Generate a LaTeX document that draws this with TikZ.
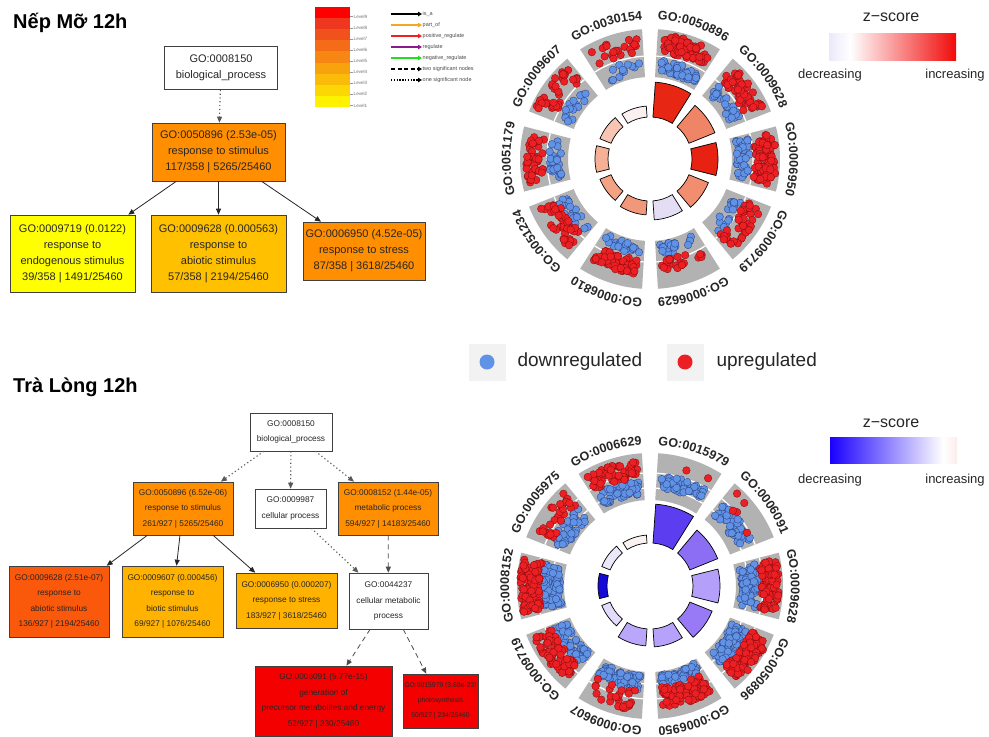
\documentclass[tikz,border=0pt]{standalone}
\usepackage{fontspec}
\setmainfont{Liberation Sans}
\usepackage{tikz}
\usetikzlibrary{arrows.meta,decorations.text}

\definecolor{goorange}{RGB}{255,142,0}
\definecolor{gogold}{RGB}{255,192,0}
\definecolor{goyellow}{RGB}{255,255,0}
\definecolor{goamber}{RGB}{255,178,0}
\definecolor{godeep}{RGB}{250,88,10}
\definecolor{gored}{RGB}{245,0,0}
\definecolor{trackgrey}{RGB}{178,178,178}
\definecolor{updot}{RGB}{236,32,36}
\definecolor{upline}{RGB}{130,10,10}
\definecolor{downdot}{RGB}{96,146,230}
\definecolor{downline}{RGB}{40,60,120}
\definecolor{keygrey}{RGB}{242,242,242}
\definecolor{keyorange}{RGB}{245,166,35}
\definecolor{keyred}{RGB}{238,32,32}
\definecolor{keypurple}{RGB}{139,26,139}
\definecolor{keygreen}{RGB}{34,221,34}
% z-score bar colours, top circle
\definecolor{zra}{RGB}{232,38,20}
\definecolor{zrb}{RGB}{240,132,102}
\definecolor{zrc}{RGB}{232,34,18}
\definecolor{zrd}{RGB}{242,142,112}
\definecolor{zre}{RGB}{228,222,245}
\definecolor{zrf}{RGB}{242,152,122}
\definecolor{zrg}{RGB}{244,162,132}
\definecolor{zrh}{RGB}{246,176,150}
\definecolor{zri}{RGB}{248,196,180}
\definecolor{zrj}{RGB}{250,240,240}
% z-score bar colours, bottom circle
\definecolor{zba}{RGB}{92,62,240}
\definecolor{zbb}{RGB}{140,110,245}
\definecolor{zbc}{RGB}{180,160,250}
\definecolor{zbd}{RGB}{152,122,246}
\definecolor{zbe}{RGB}{182,162,250}
\definecolor{zbf}{RGB}{186,166,250}
\definecolor{zbg}{RGB}{226,220,250}
\definecolor{zbh}{RGB}{22,10,215}
\definecolor{zbi}{RGB}{236,232,250}
\definecolor{zbj}{RGB}{250,242,240}
\definecolor{zlav}{RGB}{236,232,250}
\definecolor{zhot}{RGB}{242,10,10}
\definecolor{zcold}{RGB}{26,0,255}
\definecolor{zpink}{RGB}{252,236,236}

\newcommand\golabfont{\fontsize{12.5}{14}\selectfont\bfseries}

\tikzset{
  gobox/.style={draw=black!75, line width=0.6pt, align=center, inner sep=1pt, text=black!85},
  bigtree/.style={gobox, font=\fontsize{11}{16}\selectfont},
  smalltree/.style={gobox, font=\fontsize{8.3}{15.5}\selectfont},
  isa/.style={-{Triangle[length=6pt,width=5pt]}, line width=0.8pt, black!85},
  onesig/.style={isa, black!65, line width=1.1pt, dash pattern=on 1.2pt off 2.6pt},
  twosig/.style={isa, black!70, dash pattern=on 5pt off 4pt},
  updots/.style={fill=updot, draw=upline, line width=0.3pt},
  downdots/.style={fill=downdot, draw=downline, line width=0.3pt},
  keytext/.style={font=\fontsize{5.5}{6}\selectfont, text=black!70, inner sep=0.5pt},
  ztext/.style={font=\fontsize{13}{15}\selectfont, text=black!85},
}

% one grey track sector with its scatter: centre, k, nred, redlo, redhi, nblue, bluelo, bluehi
\newcommand\trackseg[8]{%
  \pgfmathsetmacro\tsA{90-36*#2-3.5}%
  \pgfmathsetmacro\tsE{90-36*#2-32.5}%
  \fill[trackgrey] ([shift={(\tsA:\trin)}]#1) arc[start angle=\tsA, end angle=\tsE, radius=\trin]
    -- ([shift={(\tsE:\trout)}]#1) arc[start angle=\tsE, end angle=\tsA, radius=\trout] -- cycle;
  \foreach \rl in \trlines {\draw[white, line width=1.3pt] ([shift={(\tsA:\rl)}]#1) arc[start angle=\tsA, end angle=\tsE, radius=\rl];}
  \foreach \q in {1,...,#6}{%
    \pgfmathsetmacro\ptA{\tsA-2.6-(\tsA-\tsE-5.2)*rnd}%
    \pgfmathsetmacro\ptR{#7+(#8-#7)*rnd}%
    \draw[downdots] ([shift={(\ptA:\ptR)}]#1) circle[radius=3.8];}
  \foreach \q in {1,...,#3}{%
    \pgfmathsetmacro\ptA{\tsA-2.6-(\tsA-\tsE-5.2)*rnd}%
    \pgfmathsetmacro\ptR{#4+(#5-#4)*rnd}%
    \draw[updots] ([shift={(\ptA:\ptR)}]#1) circle[radius=3.8];}
}
% inner z-score bar: centre, k, outer radius, colour
\newcommand\zbar[4]{%
  \pgfmathsetmacro\tsA{90-36*#2-4}%
  \pgfmathsetmacro\tsE{90-36*#2-32}%
  \filldraw[fill=#4, draw=black, line width=0.7pt] ([shift={(\tsA:\barin)}]#1) arc[start angle=\tsA, end angle=\tsE, radius=\barin]
    -- ([shift={(\tsE:#3)}]#1) arc[start angle=\tsE, end angle=\tsA, radius=#3] -- cycle;
}
% GO term along the rim: centre, k, text, radius
\newcommand\golab[4]{%
  \pgfmathsetmacro\tsM{90-36*#2-18}%
  \pgfmathsetmacro\tsA{\tsM+30}\pgfmathsetmacro\tsE{\tsM-30}%
  \path[decorate, decoration={text along path, text align=center, text color=black!85, text={|\golabfont|#3}}]
    ([shift={(\tsA:#4)}]#1) arc[start angle=\tsA, end angle=\tsE, radius=#4];
}

\begin{document}
\begin{tikzpicture}[x=1pt, y=1pt]
\pgfmathsetseed{2024}
\useasboundingbox (0,0) rectangle (989,-737);
\fill[white] (0,0) rectangle (989,-737);

\node[anchor=base west, inner sep=0, font=\fontsize{20}{22}\selectfont\bfseries] (title1) at (13,-28) {Nếp Mỡ 12h};
\node[anchor=base west, inner sep=0, font=\fontsize{20}{22}\selectfont\bfseries] (title2) at (13,-392) {Trà Lòng 12h};

% upper GO tree
\node[bigtree, fill=white, minimum width=113, minimum height=43] (t0) at (221,-68) {GO:0008150\\biological\_process};
\node[bigtree, fill=goorange, minimum width=133, minimum height=58] (t1) at (218.5,-152) {GO:0050896 (2.53e-05)\\response to stimulus\\117/358 | 5265/25460};
\node[bigtree, fill=goyellow, minimum width=125, minimum height=77] (t2) at (72.5,-253.5) {GO:0009719 (0.0122)\\response to\\endogenous stimulus\\39/358 | 1491/25460};
\node[bigtree, fill=gogold, minimum width=135, minimum height=77] (t3) at (218.5,-253.5) {GO:0009628 (0.000563)\\response to\\abiotic stimulus\\57/358 | 2194/25460};
\node[bigtree, fill=goorange, minimum width=122, minimum height=58] (t4) at (364,-251) {GO:0006950 (4.52e-05)\\response to stress\\87/358 | 3618/25460};
\draw[onesig] (t0) -- (t1);
\draw[isa] (t1) -- (t2);
\draw[isa] (t1) -- (t3);
\draw[isa] (t1) -- (t4);

% level key
\foreach \i in {0,...,8}{
  \pgfmathsetmacro\mix{100*\i/8}
  \pgfmathtruncatemacro\lvl{9-\i}
  \fill[yellow!\mix!red] (315,{-7-11.1*\i}) rectangle (350,{-7-11.1*(\i+1)});
  \draw[black!40, line width=0.3pt] (350,{-5.5-11.1*(\i+1)}) -- (353,{-5.5-11.1*(\i+1)});
  \node[anchor=west, keytext, text=black!55, font=\fontsize{4.6}{5}\selectfont] (lv\i) at (353,{-5.5-11.1*(\i+1)}) {Level\lvl};
}
% relation key
\foreach \lab/\col [count=\j from 0] in {is\_a/black, part\_of/keyorange, positive\_regulate/keyred, regulate/keypurple, negative\_regulate/keygreen}{
  \coordinate (ka\j) at (391,{-14-11*\j});
  \node[anchor=west, keytext] (kl\j) at (422,{-14-11*\j}) {\lab};
  \draw[color=\col, line width=1.7pt, -{Triangle[length=4pt,width=4.5pt]}] (ka\j) -- (kl\j.west);
}
\coordinate (ka5) at (391,-69);
\node[anchor=west, keytext] (kl5) at (422,-69) {two significant nodes};
\draw[black, line width=1.7pt, dash pattern=on 4pt off 2.5pt, -{Triangle[length=4pt,width=4.5pt]}] (ka5) -- (kl5.west);
\coordinate (ka6) at (391,-80);
\node[anchor=west, keytext] (kl6) at (422,-80) {one significant node};
\draw[black, line width=1.7pt, dash pattern=on 1.4pt off 1.4pt, -{Triangle[length=4pt,width=4.5pt]}] (ka6) -- (kl6.west);

% upper GO circle
\coordinate (ctop) at (650,-159);
\def\trin{82}\def\trout{130}\def\trlines{103}\def\barin{42}
\trackseg{ctop}{0}{70}{107}{125}{45}{87}{99}
\trackseg{ctop}{1}{55}{105}{124}{30}{88}{100}
\trackseg{ctop}{2}{80}{105}{126}{40}{87}{100}
\trackseg{ctop}{3}{45}{103}{122}{16}{90}{101}
\trackseg{ctop}{4}{22}{101}{113}{22}{86}{96}
\trackseg{ctop}{5}{60}{101}{116}{26}{86}{96}
\trackseg{ctop}{6}{48}{101}{120}{26}{89}{103}
\trackseg{ctop}{7}{45}{106}{124}{24}{89}{101}
\trackseg{ctop}{8}{36}{105}{125}{16}{87}{99}
\trackseg{ctop}{9}{22}{107}{123}{12}{87}{99}
\zbar{ctop}{0}{77}{zra}
\zbar{ctop}{1}{70}{zrb}
\zbar{ctop}{2}{68}{zrc}
\zbar{ctop}{3}{63}{zrd}
\zbar{ctop}{4}{61}{zre}
\zbar{ctop}{5}{56}{zrf}
\zbar{ctop}{6}{54}{zrg}
\zbar{ctop}{7}{55}{zrh}
\zbar{ctop}{8}{54}{zri}
\zbar{ctop}{9}{53}{zrj}
\golab{ctop}{0}{GO:0050896}{139.5}
\golab{ctop}{1}{GO:0009628}{139.5}
\golab{ctop}{2}{GO:0006950}{139.5}
\golab{ctop}{3}{GO:0009719}{139.5}
\golab{ctop}{4}{GO:0006629}{139.5}
\golab{ctop}{5}{GO:0006810}{139.5}
\golab{ctop}{6}{GO:0051234}{139.5}
\golab{ctop}{7}{GO:0051179}{139.5}
\golab{ctop}{8}{GO:0009607}{139.5}
\golab{ctop}{9}{GO:0030154}{139.5}

% upper z-score key
\node[ztext, font=\fontsize{16}{18}\selectfont] (ztitle1) at (891,-17) {z−score};
\shade[left color=zlav, right color=white] (829,-33) rectangle (850,-60);
\shade[left color=white, right color=zhot] (850,-33) rectangle (956,-60);
\node[ztext] (zdec1) at (830,-75) {decreasing};
\node[ztext] (zinc1) at (955,-75) {increasing};

% regulation key
\node[fill=keygrey, minimum size=37, inner sep=0] (kdown) at (487,-362) {};
\fill[downdot] (kdown) circle[radius=7.5];
\node[anchor=west, font=\fontsize{19}{21}\selectfont, text=black!85] (tdown) at (514,-362) {downregulated};
\node[fill=keygrey, minimum size=37, inner sep=0] (kup) at (685,-362) {};
\fill[updot] (kup) circle[radius=7.5];
\node[anchor=west, font=\fontsize{19}{21}\selectfont, text=black!85] (tup) at (713,-362) {upregulated};

% lower GO tree
\node[smalltree, fill=white, minimum width=82, minimum height=38] (b0) at (291,-432) {GO:0008150\\biological\_process};
\node[smalltree, fill=goorange, minimum width=100, minimum height=53] (b1) at (183,-508.5) {GO:0050896 (6.52e-06)\\response to stimulus\\261/927 | 5265/25460};
\node[smalltree, fill=white, minimum width=71, minimum height=39] (b2) at (290.5,-508.5) {GO:0009987\\cellular process};
\node[smalltree, fill=goorange, minimum width=100, minimum height=53] (b3) at (388,-508.5) {GO:0008152 (1.44e-05)\\metabolic process\\594/927 | 14183/25460};
\node[smalltree, fill=godeep, minimum width=100, minimum height=71] (b4) at (59,-601.5) {GO:0009628 (2.51e-07)\\response to\\abiotic stimulus\\136/927 | 2194/25460};
\node[smalltree, fill=goamber, minimum width=101, minimum height=71] (b5) at (172.5,-601.5) {GO:0009607 (0.000456)\\response to\\biotic stimulus\\69/927 | 1076/25460};
\node[smalltree, fill=goamber, minimum width=101, minimum height=55] (b6) at (286.5,-600.5) {GO:0006950 (0.000207)\\response to stress\\183/927 | 3618/25460};
\node[smalltree, fill=white, minimum width=79, minimum height=56] (b7) at (388.5,-601) {GO:0044237\\cellular metabolic\\process};
\node[smalltree, fill=gored, minimum width=137, minimum height=70] (b8) at (323.5,-701) {GO:0006091 (9.77e-15)\\generation of\\precursor metabolites and energy\\52/927 | 330/25460};
\node[smalltree, fill=gored, minimum width=75, minimum height=54, font=\fontsize{6.8}{15}\selectfont] (b9) at (440.5,-701) {GO:0015979 (3.69e-23)\\photosynthesis\\50/927 | 234/25460};
\draw[onesig] (b0) -- (b1);
\draw[onesig] (b0) -- (b2);
\draw[onesig] (b0) -- (b3);
\draw[isa] (b1) -- (b4);
\draw[isa] (b1) -- (b5);
\draw[isa] (b1) -- (b6);
\draw[onesig] (b2) -- (b7);
\draw[twosig] (b3) -- (b7);
\draw[twosig] (b7) -- (b8);
\draw[twosig] (b7) -- (b9);

% lower GO circle
\coordinate (cbot) at (650,-586);
\def\trin{86}\def\trout{133}\def\trlines{98,113}\def\barin{43}
\trackseg{cbot}{0}{2}{119}{124}{45}{98}{111}
\trackseg{cbot}{1}{5}{110}{127}{45}{95}{111}
\trackseg{cbot}{2}{85}{111}{129}{65}{91}{108}
\trackseg{cbot}{3}{95}{110}{130}{80}{90}{108}
\trackseg{cbot}{4}{90}{102}{123}{55}{89}{100}
\trackseg{cbot}{5}{26}{105}{125}{55}{90}{105}
\trackseg{cbot}{6}{70}{106}{127}{55}{90}{105}
\trackseg{cbot}{7}{110}{110}{130}{90}{90}{108}
\trackseg{cbot}{8}{30}{107}{127}{45}{91}{107}
\trackseg{cbot}{9}{60}{109}{126}{50}{92}{106}
\zbar{cbot}{0}{82}{zba}
\zbar{cbot}{1}{73}{zbb}
\zbar{cbot}{2}{70}{zbc}
\zbar{cbot}{3}{67}{zbd}
\zbar{cbot}{4}{61}{zbe}
\zbar{cbot}{5}{60}{zbf}
\zbar{cbot}{6}{52}{zbg}
\zbar{cbot}{7}{52}{zbh}
\zbar{cbot}{8}{52}{zbi}
\zbar{cbot}{9}{51}{zbj}
\golab{cbot}{0}{GO:0015979}{141}
\golab{cbot}{1}{GO:0006091}{141}
\golab{cbot}{2}{GO:0009628}{141}
\golab{cbot}{3}{GO:0050896}{141}
\golab{cbot}{4}{GO:0006950}{141}
\golab{cbot}{5}{GO:0009607}{141}
\golab{cbot}{6}{GO:0009719}{141}
\golab{cbot}{7}{GO:0008152}{141}
\golab{cbot}{8}{GO:0005975}{141}
\golab{cbot}{9}{GO:0006629}{141}

% lower z-score key
\node[ztext, font=\fontsize{16}{18}\selectfont] (ztitle2) at (891,-423) {z−score};
\shade[left color=zcold, right color=white] (830,-437) rectangle (943,-463);
\shade[left color=white, right color=zpink] (943,-437) rectangle (957,-463);
\node[ztext] (zdec2) at (830,-480) {decreasing};
\node[ztext] (zinc2) at (955,-480) {increasing};
\end{tikzpicture}
\end{document}
